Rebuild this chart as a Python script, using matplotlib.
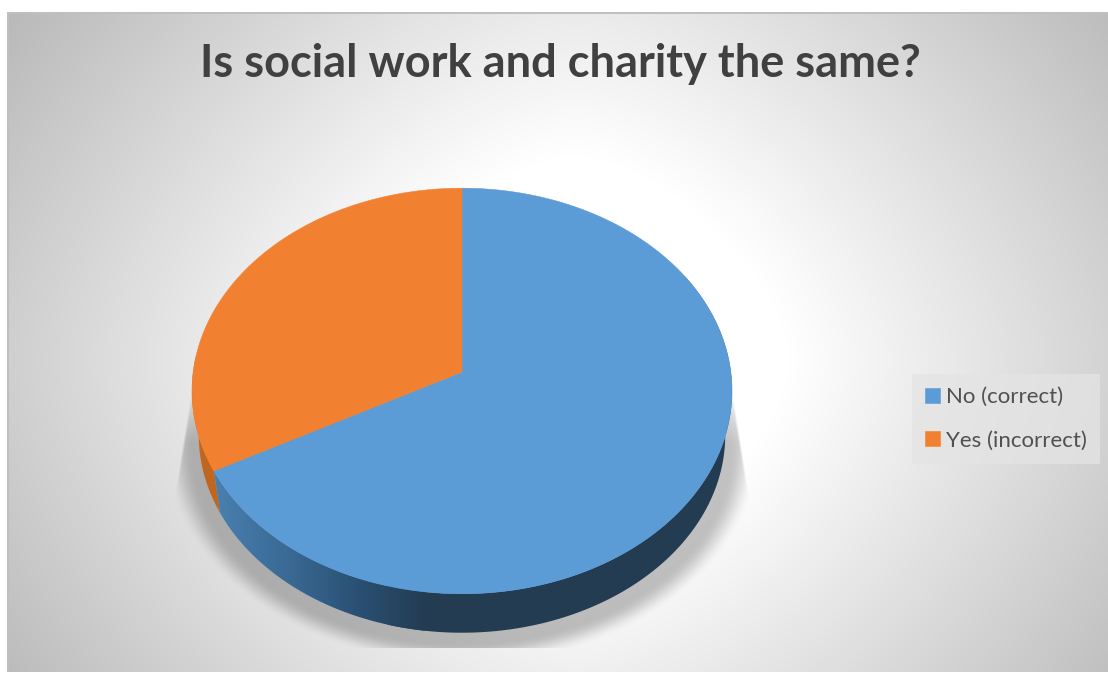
import numpy as np
import matplotlib
matplotlib.use('Agg')
import matplotlib.pyplot as plt
from matplotlib.patches import PathPatch
from matplotlib.path import Path

labels = ['No (correct)', 'Yes (incorrect)']
values = [67.2, 32.8]
top_colors = ['#5b9bd6', '#f28031']
title = 'Is social work and charity the same?'

W, H = 1108, 675
# pie geometry in pixels, the disc is tilted so its centre sits above the ellipse middle
apex_x, apex_y = 462, 372
a, b, k = 268.8, 201.0, 0.0936
# lower rim of the disc is a bit smaller and shifted down
escala = 0.975
base_y = 416.5

plt.rcParams['font.family'] = ['Lato', 'DejaVu Sans']

fig = plt.figure(figsize=(W / 100, H / 100), dpi=100)
ax = fig.add_axes([0, 0, 1, 1])
ax.set_xlim(0, W)
ax.set_ylim(H, 0)
ax.axis('off')


def proyectar(ang):
    # ang measured clockwise from 12 o'clock
    x = np.sin(ang)
    y = np.cos(ang)
    w = 1 + k * y
    return apex_x + a * x / w, apex_y - b * y / w


def pared(ang):
    # closed outline between the upper and the lower rim
    px, py = proyectar(ang)
    qx = apex_x + escala * (px - apex_x)
    qy = base_y + escala * (py - apex_y)
    return np.r_[px, qx[::-1]], np.r_[py, qy[::-1]]


# chart background, grey gradient around a white core
xx, yy = np.meshgrid(np.arange(W) + 0.5, np.arange(H) + 0.5)
d = (np.abs(xx - 575) ** 1.6 + np.abs(1.05 * (yy - 360)) ** 1.6) ** (1 / 1.6)
fondo = 1 - 0.000536 * np.clip(d - 215, 0, None)

# soft shadow under the pie, cut flat at the bottom and limited by two slanted sides
sd = np.sqrt(((xx - 462) / 298) ** 2 + ((yy - 447) / 218) ** 2)
sombra = np.clip((1.0 - sd) / 0.1, 0, 1)
sombra = sombra * sombra * (3 - 2 * sombra)
sombra *= np.clip((yy - 372) / 70, 0, 1)
ancho = 269 + 0.16 * (yy - 380)
sombra *= np.clip((ancho - np.abs(xx - 462)) / 2.5, 0, 1)
sombra[yy > 648] = 0
fondo = fondo * (1 - 0.24 * sombra)

rgb = np.dstack([fondo] * 3)
rgb[:12, :] = 1
rgb[12:14, 7:] = 0.75
rgb[:, :7] = 1
rgb[12:672, 7:9] = 0.75
rgb[672:, :] = 1
ax.imshow(rgb, extent=(0, W, H, 0), aspect='auto', vmin=0, vmax=1, zorder=0)

# slice angles, clockwise from the top
frac = np.array(values) / np.sum(values)
limites = np.concatenate([[0], np.cumsum(frac)]) * 2 * np.pi

# side wall: orange part flat, blue part shaded from left to right
ang_si = np.linspace(limites[1], np.deg2rad(275), 120)
sx, sy = pared(ang_si)
ax.fill(sx, sy, color='#c0661f', zorder=2, lw=0)

ang_frente = np.linspace(np.deg2rad(60), np.deg2rad(195), 300)
fx, fy = pared(ang_frente)
ax.fill(fx, fy, color='#233c52', zorder=3, lw=0)

ang_izq = np.linspace(np.deg2rad(185), limites[1], 200)
ix, iy = pared(ang_izq)
borde = PathPatch(Path(np.column_stack([ix, iy])), transform=ax.transData, fc='none', ec='none')
ax.add_patch(borde)
tonos = np.linspace(0, 1, 256).reshape(1, -1)
cmap = matplotlib.colors.LinearSegmentedColormap.from_list(
    'lateral', [(0, '#4a80b0'), (0.35, '#3a6a95'), (0.7, '#2a4f72'), (1, '#233c52')])
grad = ax.imshow(tonos, extent=(212, 425, 640, 460), aspect='auto', cmap=cmap, zorder=3.5)
grad.set_clip_path(borde)

# top face of each slice
for i in range(len(values)):
    ang = np.linspace(limites[i], limites[i + 1], 400)
    px, py = proyectar(ang)
    ax.fill(np.r_[apex_x, px], np.r_[apex_y, py], color=top_colors[i], label=labels[i],
            zorder=4, lw=0.4, ec=top_colors[i])

ax.text(560, 64, title, ha='center', va='center', fontsize=32.5, fontweight='bold',
        color='#404040', zorder=6)

leg = ax.legend(loc='upper left', bbox_to_anchor=(912 / W, 1 - 374 / H), frameon=True,
                fontsize=16, handlelength=0.65, handleheight=0.65, handletextpad=0.27,
                labelspacing=1.05, borderpad=0.6, borderaxespad=0, labelcolor='#505050')
leg.get_frame().set(facecolor='#e4e4e4', alpha=0.75, edgecolor='none', boxstyle='square,pad=0')

fig.savefig('out.png', dpi=100)
